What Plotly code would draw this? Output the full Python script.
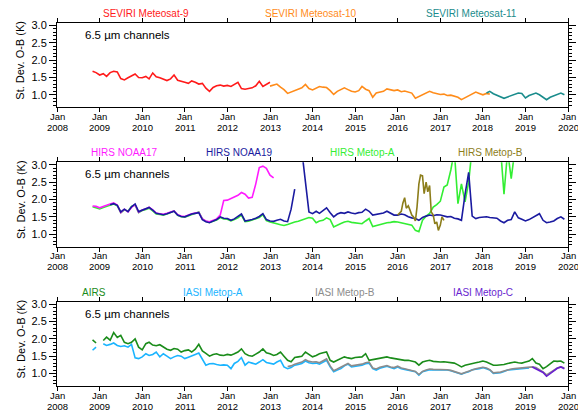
import pandas as pd
import plotly.graph_objects as go

# ---------------- data ----------------
YEARS = list(range(2008, 2021))
TICK_MONTH = "Jan"
Y_TICKS = [1.0, 1.5, 2.0, 2.5, 3.0]
CHANNEL_LABEL = "6.5 \u00b5m channels"
Y_TITLE = "St. Dev. O-B (K)"

# Panel 1: SEVIRI (monthly values)
MET9_START = "2008-11-01"
MET9 = [1.68, 1.64,
        1.57, 1.61, 1.53, 1.64, 1.68, 1.66, 1.47, 1.43, 1.49, 1.55, 1.60, 1.50,
        1.49, 1.53, 1.46, 1.63, 1.52, 1.49, 1.44, 1.41, 1.46, 1.57, 1.42, 1.38,
        1.36, 1.33, 1.40, 1.36, 1.31, 1.33, 1.19, 1.10, 1.21, 1.26, 1.28, 1.25,
        1.27, 1.24, 1.30, 1.36, 1.18, 1.16, 1.18, 1.20, 1.26, 1.39, 1.24, 1.30,
        1.36]
MET10_START = "2013-01-01"
MET10 = [1.25, 1.28, 1.31, 1.22, 1.15, 1.04, 1.08, 1.10, 1.15, 1.20, 1.30, 1.18,
         1.14, 1.19, 1.24, 1.22, 1.21, 1.12, 1.01, 1.10, 1.14, 1.20, 1.15, 1.10,
         1.08, 1.12, 1.24, 1.16, 1.12, 0.93, 1.05, 1.08, 1.10, 1.17, 1.14, 1.12,
         1.14, 1.09, 1.11, 1.08, 1.05, 0.90, 0.95, 1.00, 1.03, 1.10, 1.06, 1.03,
         1.01, 1.02, 0.98, 0.99, 0.97, 0.93, 0.86, 0.92, 0.96, 1.03, 1.08, 1.04,
         1.00, 1.04, 1.02]
MET11_START = "2018-02-01"
MET11 = [1.05, 1.10, 1.03, 0.98, 0.93, 0.90, 0.94, 0.98, 1.02, 1.05, 1.04,
         0.91, 0.98, 1.01, 1.05, 1.00, 0.93, 0.86, 0.93, 0.97, 1.00, 1.05, 1.00]

# Panel 2: HIRS
HIRS_MA_START = "2008-11-01"
HIRS_MA = [1.79, 1.77,
           1.73, 1.77, 1.80, 1.84, 1.87, 1.82, 1.62, 1.70, 1.66, 1.80, 1.84, 1.62,
           1.68, 1.71, 1.75, 1.67, 1.58, 1.57, 1.55, 1.58, 1.63, 1.67, 1.54, 1.50,
           1.49, 1.53, 1.57, 1.62, 1.64, 1.44, 1.37, 1.34, 1.38, 1.41, 1.48, 1.44,
           1.43, 1.38, 1.42, 1.47, 1.55, 1.36, 1.37, 1.40, 1.44, 1.48, 1.56, 1.39,
           1.35, 1.33, 1.30, 1.27, 1.25, 1.28, 1.32, 1.35, 1.37, 1.40, 1.45, 1.48,
           1.46, 1.33, 1.38, 1.40, 1.47, 1.42, 1.21, 1.27, 1.31, 1.35, 1.37, 1.34,
           1.33, 1.31, 1.30, 1.38, 1.45, 1.22, 1.25, 1.28, 1.30, 1.33, 1.34, 1.36,
           1.35, 1.33, 1.32, 1.29, 1.26, 1.11, 1.07, 1.40, 1.52, 1.60, 1.78, 1.85,
           1.95, 2.36, 2.42, 2.85, 3.40, 1.88, 2.45, 1.93, 2.50, 3.50, 3.50, 3.50,
           3.50, 3.50, 3.50, 3.50, 3.50, 3.50, 2.15, 3.40, 2.60, 3.40, 3.40]
NOAA17_START = "2008-11-01"
NOAA17 = [1.81, 1.80,
          1.76, 1.79, 1.83, 1.87, 1.90, 1.84, 1.62, 1.72, 1.64, 1.77, 1.85, 1.63,
          1.70, 1.73, 1.78, 1.70, 1.61, 1.59, 1.57, 1.60, 1.64, 1.67, 1.56, 1.52,
          1.51, 1.56, 1.59, 1.61, 1.63, 1.44, 1.38, 1.36, 1.40, 1.44, 1.55, 1.97,
          1.98, 2.03, 2.08, 2.12, 2.20, 2.15, 2.04, 2.06, 2.45, 2.92, 2.96, 2.90,
          2.70, 2.62]
NOAA19_START = "2009-04-01"
NOAA19 = [1.85, 1.88, 1.83, 1.64, 1.72, 1.65, 1.79, 1.87, 1.65,
          1.69, 1.72, 1.77, 1.69, 1.60, 1.58, 1.56, 1.59, 1.62, 1.66, 1.55, 1.51,
          1.50, 1.55, 1.58, 1.60, 1.62, 1.42, 1.36, 1.33, 1.38, 1.42, 1.50, 1.46,
          1.45, 1.40, 1.44, 1.50, 1.58, 1.38, 1.39, 1.42, 1.46, 1.51, 1.59, 1.42,
          1.38, 1.37, 1.40, 1.43, 1.38, 1.36, 1.72, 2.30, None, 3.40, 2.45, 1.64,
          1.59, 1.66, 1.60, 1.68, 1.76, 1.62, 1.50, 1.58, 1.62, 1.60, 1.64, 1.61,
          1.59, 1.62, 1.63, 1.72, 1.66, 1.55, 1.57, 1.60, 1.61, 1.66, 1.60, 1.55,
          1.55, 1.58, 1.56, 1.50, 1.47, 1.45, 1.40, 1.48, 1.52, 1.55, 1.53, 1.56,
          1.55, 1.53, 1.50, 1.51, 1.46, 1.44, 1.40, 2.15, 2.78, 1.52, 1.45, 1.48,
          1.49, 1.50, 1.48, 1.47, 1.46, 1.38, 1.33, 1.40, 1.42, 1.64, 1.47, 1.43,
          1.38, 1.42, 1.47, 1.52, 1.59, 1.40, 1.33, 1.35, 1.38, 1.45, 1.50, 1.43]
HIRS_MB_START = "2016-01-01"   # semi-monthly values
HIRS_MB = [1.55, 1.60, 1.66, 1.90, 2.05, 1.75, 1.82, 1.70, 1.55, 1.50, 1.38, 1.78,
           2.45, 2.70, 2.68, 2.17, 2.50, 2.22, 2.40, 1.64, 1.55, 1.30, 1.35, 1.11,
           1.26, 1.50, 1.40]

# Panel 3: AIRS / IASI (monthly values)
AIRS_START = "2008-11-01"
AIRS = [1.97, 1.88,
        None, 1.95, 2.05, 1.96, 2.18, 2.04, 2.10, 1.90, 1.86, 1.90, 2.00, 1.76,
        1.68, 1.86, 1.90, 1.82, 1.80, 1.83, 1.76, 1.70, 1.67, 1.72, 1.70, 1.62,
        1.66, 1.68, 1.62, 1.70, 1.84, 1.65, 1.58, 1.50, 1.55, 1.57, 1.53, 1.52,
        1.55, 1.53, 1.57, 1.62, 1.71, 1.57, 1.52, 1.50, 1.56, 1.62, 1.71, 1.60,
        1.57, 1.52, 1.55, 1.62, 1.50, 1.38, 1.34, 1.46, 1.48, 1.50, 1.62, 1.55,
        1.48, 1.52, 1.57, 1.60, 1.62, 1.38, 1.33, 1.38, 1.43, 1.48, 1.45, 1.43,
        1.46, 1.47, 1.48, 1.57, 1.38, 1.40, 1.42, 1.46, 1.47, 1.48, 1.45, 1.43,
        1.40, 1.39, 1.38, 1.38, 1.35, 1.33, 1.24, 1.33, 1.36, 1.38, 1.35, 1.33,
        1.33, 1.34, 1.33, 1.32, 1.30, 1.25, 1.19, 1.24, 1.27, 1.30, 1.31, 1.33,
        1.36, 1.33, 1.29, 1.24, 1.24, 1.24, 1.26, 1.29, 1.31, 1.33, 1.31, 1.30,
        1.33, 1.36, 1.43, 1.30, 1.27, 1.14, 1.20, 1.27, 1.36, 1.35, 1.36, 1.30]
IASI_A_START = "2008-11-01"
IASI_A = [1.67, 1.76,
          None, 1.86, 1.81, 1.84, 1.88, 1.81, 1.78, 1.80, 1.76, 1.84, 1.45, 1.43,
          1.48, 1.57, 1.52, 1.55, 1.62, 1.48, 1.57, 1.50, 1.43, 1.48, 1.52, 1.50,
          1.43, 1.47, 1.50, 1.55, 1.59, 1.43, 1.24, 1.28, 1.29, 1.26, 1.24, 1.25,
          1.24, 1.14, 1.29, 1.35, 1.46, 1.24, 1.33, 1.30, 1.27, 1.33, 1.40, 1.32,
          1.29, 1.27, 1.33, 1.38, 1.19, 1.14, 1.17, 1.24, 1.26, 1.29, 1.36, 1.31,
          1.29, 1.30, 1.27, 1.33, 1.38, 1.19, 1.05, 1.10, 1.14, 1.22, 1.27, 1.19,
          1.21, 1.22, 1.24, 1.28, 1.30, 1.14, 1.10, 1.15, 1.19, 1.21, 1.17, 1.14,
          1.19, 1.14, 1.12, 1.10, 1.07, 1.05, 0.95, 1.05, 1.08, 1.11, 1.10, 1.10,
          1.11, 1.11, 1.10, 1.08, 1.05, 1.02, 0.98, 1.02, 1.05, 1.11, 1.12, 1.14,
          1.17, 1.14, 1.10, 1.00, 1.01, 1.02, 1.06, 1.10, 1.11, 1.12, 1.14, 1.15,
          1.17, 1.16]
IASI_B_START = "2013-06-01"
IASI_B = [1.20, 1.22, 1.27, 1.30, 1.33, 1.40, 1.35,
          1.33, 1.34, 1.31, 1.37, 1.42, 1.22, 1.08, 1.13, 1.18, 1.25, 1.29, 1.22,
          1.24, 1.25, 1.27, 1.31, 1.33, 1.16, 1.13, 1.18, 1.21, 1.23, 1.19, 1.17,
          1.21, 1.16, 1.14, 1.12, 1.09, 1.06, 0.97, 1.06, 1.10, 1.13, 1.12, 1.12,
          1.13, 1.12, 1.11, 1.09, 1.06, 1.03, 0.99, 1.03, 1.07, 1.12, 1.14, 1.16,
          1.18, 1.16, 1.11, 1.02, 1.02, 1.04, 1.07, 1.11, 1.13, 1.14, 1.15, 1.16,
          1.18, 1.17, 1.19, 1.17, 1.12, 1.05, 0.96, 1.03, 1.10, 1.16, 1.19, 1.16]
IASI_C_START = "2019-03-01"
IASI_C = [1.19, 1.14, 1.10, 1.03, 0.92, 1.00, 1.08, 1.15, 1.19, 1.14]

# (name, start, values, frequency, colour, label-centre date)
PANELS = [
    [("SEVIRI Meteosat-9", MET9_START, MET9, "MS", "#ff1a1a", "2010-02-05"),
     ("SEVIRI Meteosat-10", MET10_START, MET10, "MS", "#ff8c1a", "2013-12-15"),
     ("SEVIRI Meteosat-11", MET11_START, MET11, "MS", "#1a8c8c", "2017-09-25")],
    [("HIRS Metop-A", HIRS_MA_START, HIRS_MA, "MS", "#33ee33", "2015-03-05"),
     ("HIRS NOAA17", NOAA17_START, NOAA17, "MS", "#ff1aff", "2009-07-30"),
     ("HIRS NOAA19", NOAA19_START, NOAA19, "MS", "#1a1aa0", "2012-04-15"),
     ("HIRS Metop-B", HIRS_MB_START, HIRS_MB, "SMS", "#8c7d1a", "2018-03-05")],
    [("IASI Metop-A", IASI_A_START, IASI_A, "MS", "#1ab4ff", "2011-08-28"),
     ("IASI Metop-B", IASI_B_START, IASI_B, "MS", "#8c8c8c", "2014-10-10"),
     ("AIRS", AIRS_START, AIRS, "MS", "#1a8c1a", "2008-11-10"),
     ("IASI Metop-C", IASI_C_START, IASI_C, "MS", "#6a1fd0", "2018-01-05")],
]

# ---------------- figure ----------------
FONT = "Liberation Sans, Arial, Helvetica, sans-serif"
DOMAINS = [(0.7678, 1.0), (0.3839, 0.6161), (0.0, 0.2322)]
tickvals_x = [f"{y}-01-01" for y in YEARS]

fig = go.Figure()
annotations = []
for i, series in enumerate(PANELS):
    n = i + 1
    xa = "x" if n == 1 else f"x{n}"
    ya = "y" if n == 1 else f"y{n}"
    for name, start, vals, freq, col, lab in series:
        dates = pd.date_range(start=start, periods=len(vals), freq=freq)
        fig.add_trace(go.Scatter(x=dates, y=vals, mode="lines", name=name,
                                 line=dict(color=col, width=1.6),
                                 connectgaps=False, xaxis=xa, yaxis=ya,
                                 showlegend=False, hoverinfo="skip"))
        annotations.append(dict(text=name, x=lab, xref=xa, y=1,
                                yref=f"{ya} domain", yanchor="bottom",
                                xanchor="center", yshift=2, showarrow=False,
                                font=dict(family=FONT, size=10, color=col)))
    annotations.append(dict(text=CHANNEL_LABEL, x=0.05, xref=f"{xa} domain",
                            y=1, yref=f"{ya} domain", xanchor="left",
                            yanchor="top", yshift=-4, showarrow=False,
                            font=dict(family=FONT, size=11.5, color="black")))
    annotations.append(dict(text=Y_TITLE, x=-0.0713, xref="paper", y=0.5,
                            yref=f"{ya} domain", xanchor="center",
                            yanchor="middle", textangle=-90, yshift=5,
                            showarrow=False,
                            font=dict(family=FONT, size=11, color="black")))
    # two-line x tick labels: month line and year line
    for yv, tv in zip(YEARS, tickvals_x):
        annotations.append(dict(text=TICK_MONTH, x=tv, xref=xa, y=0,
                                yref=f"{ya} domain", xanchor="center",
                                yanchor="top", yshift=-2.8, showarrow=False,
                                borderpad=0,
                                font=dict(family=FONT, size=9.5, color="black")))
        annotations.append(dict(text=str(yv), x=tv, xref=xa, y=0,
                                yref=f"{ya} domain", xanchor="center",
                                yanchor="top", yshift=-13.8, showarrow=False,
                                borderpad=0,
                                font=dict(family=FONT, size=9.5, color="black")))

    xkw = dict(range=["2008-01-01", "2020-01-01"], tickvals=tickvals_x,
               showticklabels=False, ticks="outside", ticklen=4,
               tickcolor="black", showline=True, linecolor="black",
               linewidth=1, mirror="allticks", showgrid=False, zeroline=False,
               anchor=ya, domain=[0, 1])
    ykw = dict(range=[0.64, 3.07], tickvals=Y_TICKS,
               ticktext=[f"{v:.1f}" for v in Y_TICKS], ticks="outside",
               ticklen=7, tickcolor="black", showline=True, linecolor="black",
               linewidth=1, mirror="allticks", showgrid=False, zeroline=False,
               minor=dict(dtick=0.1, tick0=0, ticks="outside", ticklen=3,
                          tickcolor="black"),
               tickfont=dict(family=FONT, size=11, color="black"),
               anchor=xa, domain=list(DOMAINS[i]))
    fig.update_layout({("xaxis" if n == 1 else f"xaxis{n}"): xkw,
                       ("yaxis" if n == 1 else f"yaxis{n}"): ykw})

# the page body adds an 8 px offset, so the figure is 8 px smaller
fig.update_layout(width=578, height=403, margin=dict(l=49, r=10, t=14, b=25),
                  paper_bgcolor="white", plot_bgcolor="white",
                  annotations=annotations, font=dict(family=FONT))
fig.write_html("out.html")
